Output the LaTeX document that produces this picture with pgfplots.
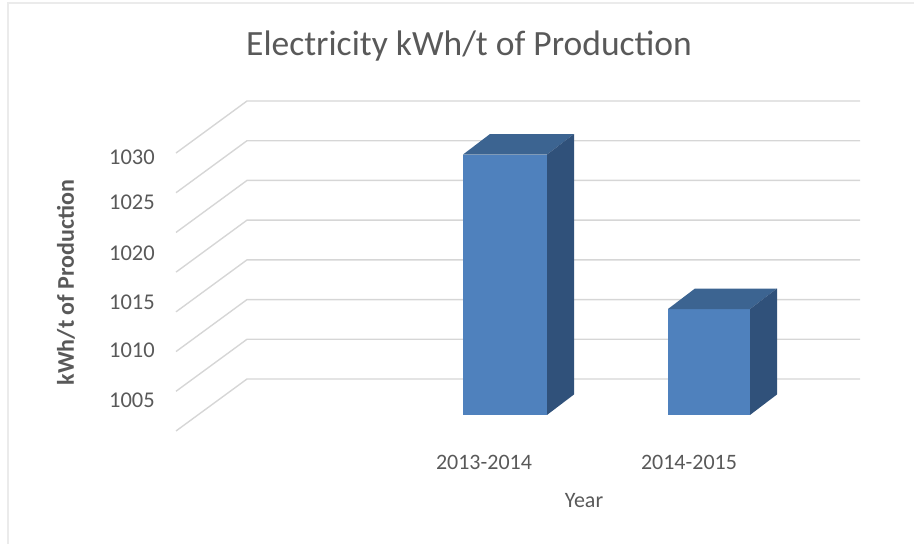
\documentclass[border=0pt]{standalone}
\usepackage{fontspec}
\setmainfont{Carlito}
\usepackage{pgfplots}
\pgfplotsset{compat=1.18}
\definecolor{txt}{HTML}{595959}
\definecolor{gridc}{HTML}{D6D6D6}
\definecolor{barF}{HTML}{4F81BD}
\definecolor{barT}{HTML}{3C6491}
\definecolor{barS}{HTML}{30517A}
\begin{document}
\begin{tikzpicture}[x=1pt,y=1pt]
\path[use as bounding box] (0,0) rectangle (914,544);
\draw[color=black!8, line width=1.5pt] (8,0) -- (8,541) -- (914,541);
\begin{axis}[
  at={(247pt,85.6pt)}, anchor=south west, scale only axis,
  width=613pt, height=357.4pt,
  xmin=247, xmax=860, ymin=985, ymax=1030, clip=false,
  axis line style={draw=none}, tick style={draw=none},
  xtick={484,689}, xticklabels={2013-2014,2014-2015},
  xticklabel style={anchor=base, yshift=-11.6pt, inner sep=0pt, text=txt, font=\fontsize{22}{26}\selectfont},
  ytick={1022.95,1017.28,1010.86,1004.70,998.65,992.36},
  yticklabels={1030,1025,1020,1015,1010,1005},
  yticklabel style={anchor=east, xshift=-92pt, inner sep=0pt, text=txt, font=\fontsize{22.5}{26}\selectfont},
  title={Electricity kWh/t of Production},
  title style={at={(axis cs:469,1035.58)}, anchor=base, yshift=-5pt, inner sep=0pt, text=txt, font=\fontsize{35.5}{40}\selectfont},
  xlabel={Year},
  xlabel style={at={(axis cs:584,978.76)}, anchor=base, inner sep=0pt, text=txt, font=\fontsize{22}{25}\selectfont},
  ylabel={kWh/t of Production},
  ylabel style={at={(axis cs:74,1007.15)}, anchor=base, inner sep=0pt, text=txt, font=\bfseries\fontsize{24}{28}\selectfont},
]
% back wall and side wall gridlines
\addplot[gridc, line width=1.4pt] coordinates {(176,988.45) (247,995) (860,995)};
\addplot[gridc, line width=1.4pt] coordinates {(176,993.45) (247,1000) (860,1000)};
\addplot[gridc, line width=1.4pt] coordinates {(176,998.45) (247,1005) (860,1005)};
\addplot[gridc, line width=1.4pt] coordinates {(176,1003.45) (247,1010) (860,1010)};
\addplot[gridc, line width=1.4pt] coordinates {(176,1008.45) (247,1015) (860,1015)};
\addplot[gridc, line width=1.4pt] coordinates {(176,1013.45) (247,1020) (860,1020)};
\addplot[gridc, line width=1.4pt] coordinates {(176,1018.45) (247,1025) (860,1025)};
\addplot[gridc, line width=1.4pt] coordinates {(176,1023.45) (247,1030) (860,1030)};
% bar 2013-2014
\addplot[fill=barF, draw=none] coordinates {(463,990.47) (547,990.47) (547,1023.26) (463,1023.26)} -- cycle;
\addplot[fill=barT, draw=none] coordinates {(463,1023.26) (547,1023.26) (574,1025.84) (490,1025.84)} -- cycle;
\addplot[fill=barS, draw=none] coordinates {(547,990.47) (574,993.05) (574,1025.84) (547,1023.26)} -- cycle;
% bar 2014-2015
\addplot[fill=barF, draw=none] coordinates {(668,990.47) (750,990.47) (750,1003.81) (668,1003.81)} -- cycle;
\addplot[fill=barT, draw=none] coordinates {(668,1003.81) (750,1003.81) (777,1006.39) (695,1006.39)} -- cycle;
\addplot[fill=barS, draw=none] coordinates {(750,990.47) (777,993.05) (777,1006.39) (750,1003.81)} -- cycle;
\end{axis}
\end{tikzpicture}
\end{document}
